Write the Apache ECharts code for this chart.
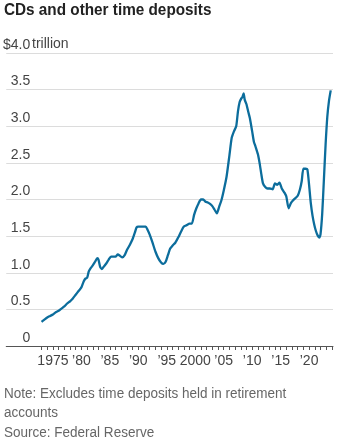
<!DOCTYPE html>
<html><head><meta charset="utf-8">
<script src="https://cdn.jsdelivr.net/npm/echarts@6/dist/echarts.min.js"></script>
<style>html,body{margin:0;padding:0;background:#fff}#c{width:341px;height:443px}</style>
</head><body><div id="c"></div>
<script>
var title = 'CDs and other time deposits';
var unitLabel = 'trillion';
var noteLines = ['Note: Excludes time deposits held in retirement', 'accounts', 'Source: Federal Reserve'];
var yTicks = [0, 0.5, 1, 1.5, 2, 2.5, 3, 3.5, 4];
var xLabelYears = [1975, 1980, 1985, 1990, 1995, 2000, 2005, 2010, 2015, 2020];
var years = [1973.0,1973.5,1974.0,1974.5,1975.0,1975.5,1976.0,1976.5,1977.0,1977.5,1978.0,1978.5,1979.0,1979.5,1980.0,1980.4,1980.7,1981.0,1981.3,1981.6,1982.0,1982.4,1982.8,1983.0,1983.3,1983.6,1984.0,1984.4,1984.8,1985.2,1985.6,1986.0,1986.4,1986.8,1987.2,1987.6,1988.0,1988.5,1989.0,1989.4,1989.7,1990.0,1990.5,1991.0,1991.3,1991.6,1992.0,1992.5,1993.0,1993.5,1994.0,1994.4,1994.8,1995.2,1995.6,1996.0,1996.5,1997.0,1997.5,1998.0,1998.5,1999.0,1999.4,1999.8,2000.2,2000.6,2001.0,2001.4,2001.8,2002.2,2002.6,2003.0,2003.4,2003.8,2004.2,2004.6,2005.0,2005.5,2006.0,2006.4,2006.8,2007.2,2007.5,2007.8,2008.1,2008.3,2008.5,2008.7,2009.0,2009.3,2009.6,2010.0,2010.3,2010.6,2011.0,2011.3,2011.6,2011.9,2012.3,2012.7,2013.1,2013.6,2014.0,2014.4,2014.8,2015.2,2015.7,2016.0,2016.4,2016.8,2017.2,2017.6,2018.0,2018.4,2018.7,2019.0,2019.4,2019.7,2020.0,2020.3,2020.6,2020.9,2021.2,2021.5,2021.8,2022.0,2022.3,2022.6,2022.9,2023.2,2023.5,2023.8];
var deposits = [0.33,0.36,0.39,0.41,0.43,0.46,0.48,0.51,0.54,0.58,0.61,0.65,0.70,0.75,0.80,0.88,0.92,0.93,1.02,1.06,1.10,1.15,1.20,1.18,1.08,1.05,1.09,1.13,1.18,1.22,1.22,1.22,1.25,1.23,1.21,1.24,1.31,1.38,1.46,1.55,1.62,1.63,1.63,1.63,1.63,1.59,1.52,1.41,1.29,1.20,1.14,1.12,1.15,1.24,1.33,1.37,1.41,1.48,1.56,1.63,1.65,1.67,1.67,1.79,1.88,1.95,2.00,2.00,1.97,1.96,1.94,1.91,1.86,1.81,1.90,1.99,2.12,2.31,2.60,2.84,2.93,3.00,3.20,3.33,3.38,3.40,3.45,3.36,3.30,3.20,3.11,2.93,2.79,2.72,2.62,2.50,2.35,2.22,2.17,2.15,2.15,2.14,2.22,2.20,2.23,2.15,2.09,2.04,1.88,1.95,1.99,2.02,2.05,2.14,2.25,2.42,2.42,2.41,2.20,1.95,1.78,1.66,1.57,1.51,1.48,1.52,1.80,2.27,2.75,3.13,3.35,3.49];

var tickYears = [];
for (var y = 1973; y <= 2024; y++) tickYears.push(y);
var seriesData = years.map(function (t, i) { return [t, deposits[i]]; });

var FONT = '"Liberation Sans", sans-serif';
var chart = echarts.init(document.getElementById('c'), null, {renderer: 'canvas'});
chart.setOption({
  animation: false,
  backgroundColor: '#fff',
  grid: {left: 4, right: 8, top: 53, bottom: 97, containLabel: false},
  xAxis: {
    type: 'value', min: 1966.8, max: 2024.2,
    splitLine: {show: false},
    axisLine: {show: true, onZero: false, lineStyle: {color: '#555', width: 1}},
    axisTick: {show: true, customValues: tickYears, length: 4, lineStyle: {color: '#555'}},
    axisLabel: {
      customValues: xLabelYears, margin: 8, color: '#444', fontFamily: FONT, fontSize: 14,
      formatter: function (v) { return (v === 1975 || v === 2000) ? String(v) : '\u2019' + String(v).slice(2); }
    }
  },
  yAxis: {
    type: 'value', min: 0, max: 4, interval: 0.5,
    axisLine: {show: false}, axisTick: {show: false},
    splitLine: {show: true, lineStyle: {color: '#dcdcdc', width: 1}, showMinLine: false},
    axisLabel: {
      inside: true, margin: 24, align: 'right', verticalAlign: 'bottom', padding: [0, 0, 1, 0],
      color: '#444', fontFamily: FONT, fontSize: 14,
      formatter: function (v) { return v === 0 ? '0' : (v === 4 ? '$4.0' : v.toFixed(1)); }
    }
  },
  graphic: [
    {type: 'text', x: 4, y: 2, scaleX: 0.9, style: {text: title, font: 'bold 17px ' + FONT, fill: '#222'}},
    {type: 'text', x: 32, y: 37, style: {text: unitLabel, font: '14px ' + FONT, fill: '#444'}},
    {type: 'text', x: 4, y: 384, scaleX: 0.965, style: {text: noteLines.join('\n'), font: '14px ' + FONT, fill: '#666', lineHeight: 19.5}}
  ],
  series: [{
    type: 'line', data: seriesData, showSymbol: false, symbol: 'none', smooth: 0.2,
    lineStyle: {color: '#0c6d9c', width: 2.3}
  }]
});
</script></body></html>
